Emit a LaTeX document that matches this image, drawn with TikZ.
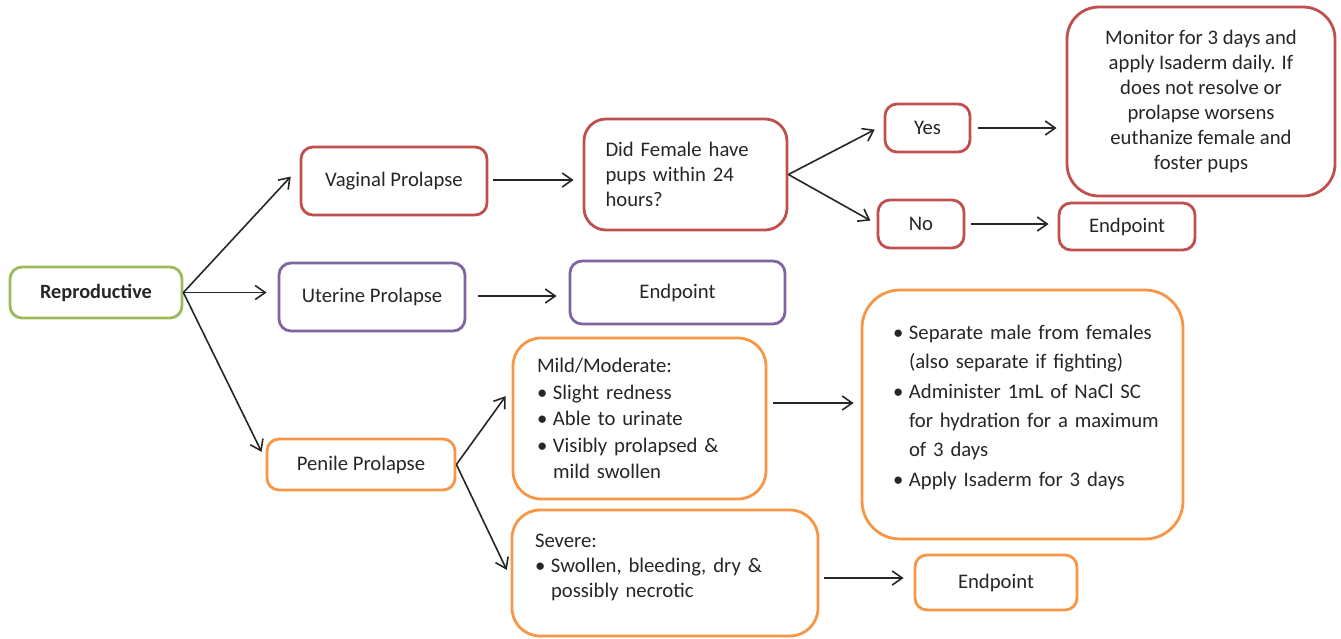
\documentclass[tikz,border=0pt]{standalone}
\usepackage{fontspec}
\setmainfont{Carlito}
\usetikzlibrary{arrows.meta}
\definecolor{cred}{HTML}{C0504D}
\definecolor{cgreen}{HTML}{9BBB59}
\definecolor{cpurple}{HTML}{8064A2}
\definecolor{corange}{HTML}{F79646}
\definecolor{ctext}{HTML}{262626}
\newcommand{\bl}{\makebox[16pt][l]{\textbullet}}
\newcommand{\ind}{\hspace*{16pt}}
\begin{document}
\begin{tikzpicture}[x=1pt,y=-1pt,
  box/.style={draw, line width=2.8pt, rounded corners=12pt, fill=white, text=ctext,
    font=\fontsize{20.7}{25}\selectfont, inner sep=0pt, align=center},
  arr/.style={-{Straight Barb[length=10pt,width=14pt]}, line width=1.6pt, black!85}]
\useasboundingbox (0,0) rectangle (1341,638);

\node[box, draw=cgreen, minimum width=172, minimum height=51,
  font=\fontsize{20.3}{25}\selectfont\bfseries] (rep) at (96,292.5) {Reproductive};
\node[box, draw=cred, minimum width=186, minimum height=68, yshift=-2pt] (vag) at (394,179) {Vaginal Prolapse};
\node[box, draw=cpurple, minimum width=186, minimum height=68, yshift=-1pt] (ute) at (372,296) {Uterine Prolapse};
\node[box, draw=corange, minimum width=188, minimum height=51, yshift=-1pt] (pen) at (361,463.5) {Penile Prolapse};

\node[box, draw=cred, minimum width=203, minimum height=111, rounded corners=22pt,
  text width=160, align=left] (did) at (685.5,174.5) {Did Female have\\pups within 24\\hours?};
\node[box, draw=cpurple, minimum width=215, minimum height=63] (end1) at (677.5,292.5) {Endpoint};

\node[box, draw=cred, minimum width=85, minimum height=48] (yes) at (927.5,128) {Yes};
\node[box, draw=cred, minimum width=86, minimum height=48] (no) at (921,224) {No};
\node[box, draw=cred, minimum width=268, minimum height=189, rounded corners=32pt] (mon) at (1201,101.5)
  {Monitor for 3 days and\\apply Isaderm daily. If\\does not resolve or\\prolapse worsens\\euthanize female and\\foster pups};
\node[box, draw=cred, minimum width=136, minimum height=47] (end2) at (1127,226.5) {Endpoint};

\node[box, draw=corange, minimum width=253, minimum height=161, rounded corners=28pt,
  text width=205, align=left, font=\fontsize{20.7}{26.5}\selectfont] (mild) at (639.5,418.5)
  {Mild/Moderate:\\\bl Slight redness\\\bl Able to urinate\\\bl Visibly prolapsed \&\\\ind mild swollen};
\node[box, draw=corange, minimum width=321, minimum height=249, rounded corners=38pt,
  text width=259, align=left, font=\fontsize{20.7}{29.3}\selectfont, text depth=164pt] (sep) at (1022.5,414.5)
  {\bl Separate male from females\\\ind \mbox{(also separate if fighting)}\\\bl \mbox{Administer 1mL of NaCl SC}\\\ind \mbox{for hydration for a maximum}\\\ind of 3 days\\\bl Apply Isaderm for 3 days};
\node[box, draw=corange, minimum width=306, minimum height=126, rounded corners=28pt,
  text width=260, align=left, text depth=64pt] (sev) at (665,573)
  {Severe:\\\bl Swollen, bleeding, dry \&\\\ind possibly necrotic};
\node[box, draw=corange, minimum width=162, minimum height=55] (end3) at (996,582.5) {Endpoint};

% connectors
\draw[arr, shorten >=13pt] (rep.east) -- ([yshift=14pt]vag.west);
\draw[arr, shorten >=11pt] (rep.east) -- (rep.east -| ute.west);
\draw[arr, shorten >=9pt] (rep.east) -- ([yshift=4.5pt]pen.west);
\draw[arr, shorten <=5pt, shorten >=9pt] ([yshift=1pt]vag.east) -- ([yshift=1pt]vag.east -| did.west);
\draw[arr, shorten <=12pt, shorten >=12pt] ([yshift=1pt]ute.east) -- ([yshift=1pt]ute.east -| end1.west);
\draw[arr, shorten >=10pt] (did.east) -- ([yshift=3pt]yes.west);
\draw[arr, shorten >=7pt] (did.east) -- (no.west);
\draw[arr, shorten <=7pt, shorten >=9pt] (yes.east) -- (yes.east -| mon.west);
\draw[arr, shorten <=6pt, shorten >=9pt] (no.east) -- (no.east -| end2.west);
\draw[arr, shorten >=10pt] (pen.east) -- ([yshift=30.5pt]mild.west);
\draw[arr, shorten >=9pt] (pen.east) -- ([yshift=-5pt]sev.west);
\draw[arr, shorten <=6pt, shorten >=7pt] ([yshift=15.5pt]mild.east) -- ([yshift=15.5pt]mild.east -| sep.west);
\draw[arr, shorten <=5pt, shorten >=10pt] ([yshift=4.5pt]end3.west -| sev.east) -- ([yshift=4.5pt]end3.west);
\end{tikzpicture}
\end{document}
